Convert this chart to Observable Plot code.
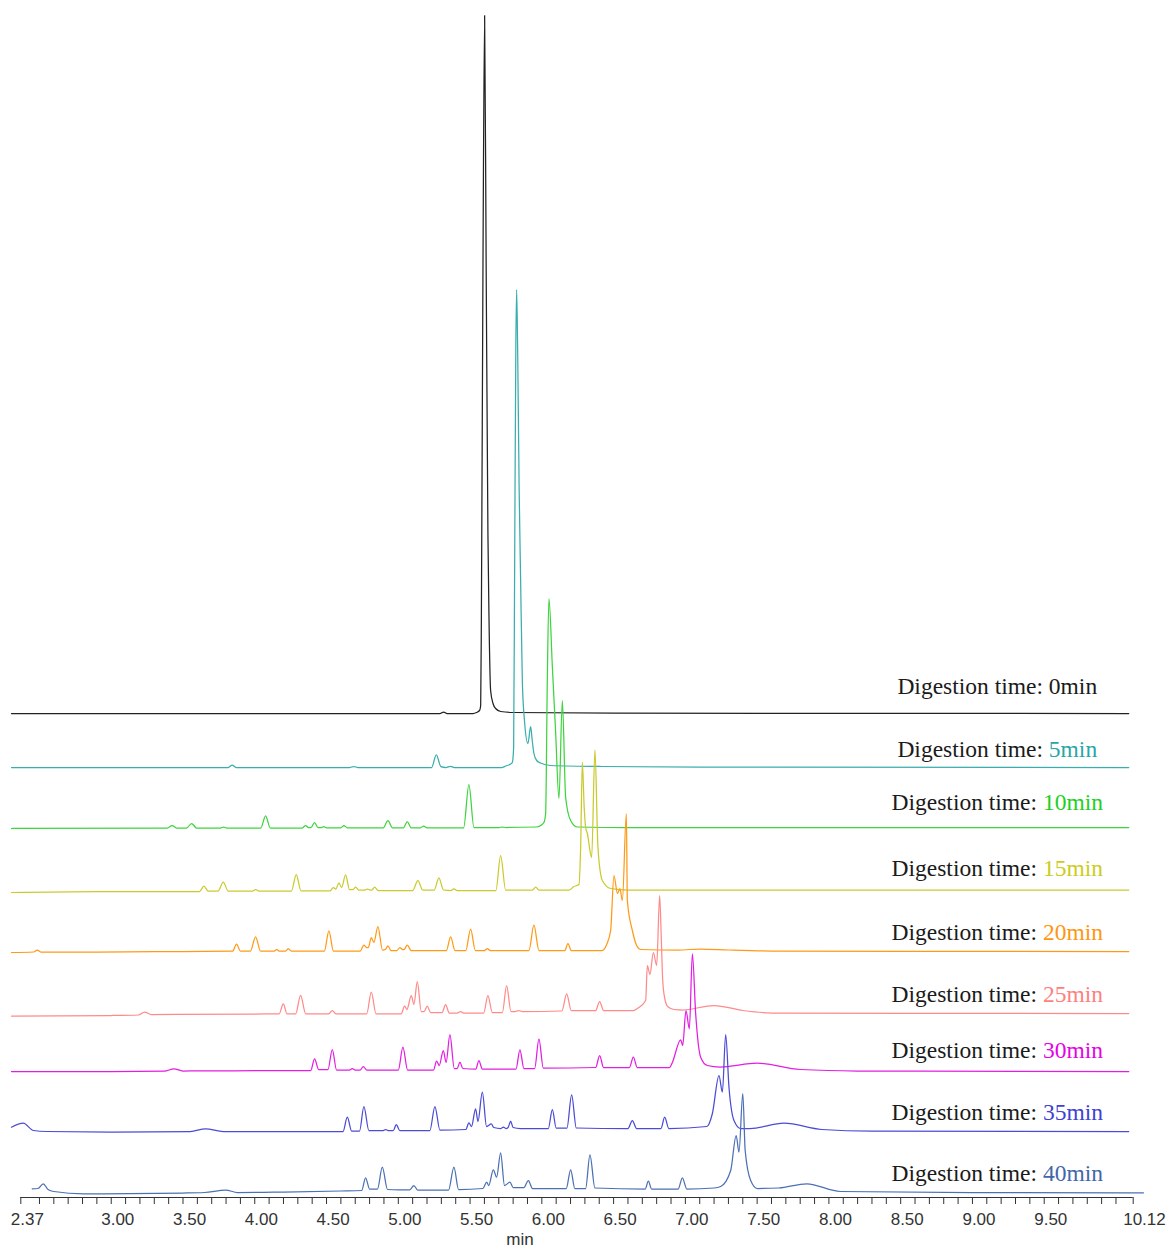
<!DOCTYPE html>
<html>
<head>
<meta charset="utf-8">
<script src="https://cdn.jsdelivr.net/npm/d3@7"></script>
<script src="https://cdn.jsdelivr.net/npm/@observablehq/plot@0.6"></script>
<style>
  html, body { margin: 0; padding: 0; background: #ffffff; }
  #chart svg { display: block; }
</style>
</head>
<body>
<div id="chart"></div>
<script>
// ---- Series: digestion times, colours, stacking offsets (intensity units) ----
const traceNames   = ["0min", "5min", "10min", "15min", "20min", "25min", "30min", "35min", "40min"];
const lineColors   = ["#222222", "#3aadad", "#3fd43f", "#caca2e", "#ff9a16", "#ff8a8a", "#e21ee2", "#4b4bd6", "#4c70b4"];
const textColors   = ["#1a1a1a", "#27a6a6", "#1ed01e", "#cccc1e", "#ff9612", "#ff7f7f", "#e600e6", "#4040d4", "#4266aa"];
const traceOffsets = [484, 430, 369, 306, 246, 183, 126, 66, 7];
const labelLift    = [27.5, 18.5, 26.5, 23, 19.5, 20, 21.5, 18.7, 17];
const labelTime    = 9.173;

// ---- Chromatogram points [retention time (min), intensity above trace baseline] ----
const trace0 = [[2.305,0],[5.29,0],[5.316,1.5],[5.34,0],[5.52,0],[5.545,1],[5.566,3],[5.574,8],[5.579,100],[5.59,450],[5.6014,698],[5.612,450],[5.6244,180],[5.6314,100],[5.6432,23],[5.66,10],[5.678,5],[5.713,2],[5.80,1],[6.5,0.3],[10.089,0]];

const trace5 = [[2.305,0],[3.815,0],[3.8432,2.5],[3.87,0],[4.66,0],[4.69,1],[4.72,0],[5.232,0],[5.2648,12.7],[5.297,0.8],[5.33,0],[5.3645,1.2],[5.39,0],[5.72,0],[5.748,1.5],[5.7826,3.5],[5.7944,5],[5.8035,20],[5.8105,200],[5.8188,420],[5.8244,478],[5.8314,420],[5.8418,280],[5.8523,187],[5.8641,87],[5.8801,45],[5.9031,24],[5.922,41],[5.9324,28],[5.9449,14],[5.9638,7],[5.9916,4.5],[6.0613,2],[6.41,1],[7.107,0.5],[10.089,0]];

const trace10 = [[2.305,0],[3.39,0.3],[3.4251,3],[3.455,0.5],[3.525,0.5],[3.5596,5],[3.595,0.5],[3.76,0.5],[3.7826,1.5],[3.805,0.5],[4.042,0.5],[4.0753,12.6],[4.108,0.5],[4.33,0.5],[4.354,3],[4.375,1],[4.392,1],[4.4167,6],[4.44,1],[4.465,1],[4.4815,2],[4.50,0.7],[4.60,0.7],[4.6209,3],[4.645,0.7],[4.895,0.7],[4.9275,8],[4.96,0.7],[5.035,0.7],[5.0627,7],[5.09,0.7],[5.155,0.7],[5.1763,2.5],[5.20,0.7],[5.455,0.7],[5.492,44],[5.527,1],[5.70,1],[5.7247,1.5],[5.75,1],[5.96,1.5],[5.9916,3],[6.0146,6],[6.0265,15],[6.0383,150],[6.0495,230],[6.0732,162],[6.0962,96],[6.1192,30],[6.1429,128],[6.1659,31],[6.2007,8],[6.2474,1.5],[6.6,1],[10.089,1]];

const trace15 = [[2.305,-1],[2.9,0],[3.615,0],[3.6453,5.3],[3.675,0.5],[3.745,0.5],[3.7805,9.3],[3.815,0.5],[3.985,0.5],[4.0056,2],[4.03,0.5],[4.255,0.5],[4.2892,17],[4.322,0.7],[4.525,0.7],[4.547,4],[4.565,2.5],[4.5861,8.7],[4.605,4],[4.6328,16.7],[4.66,2],[4.685,2],[4.7024,4.3],[4.725,1.5],[4.765,1.5],[4.784,2.5],[4.805,1.5],[4.815,1.5],[4.8348,4.3],[4.86,1],[5.10,1],[5.1366,11],[5.17,1.5],[5.25,1.5],[5.2829,13.7],[5.315,1.5],[5.365,1],[5.3875,2.7],[5.41,1],[5.68,1],[5.7129,36],[5.748,1.5],[5.935,1.5],[5.9568,4.3],[5.98,1.5],[6.19,1.5],[6.2237,5],[6.2586,7],[6.2704,44],[6.2822,129.3],[6.2948,85],[6.3052,64],[6.317,58],[6.347,34],[6.37,141.7],[6.3909,44],[6.4216,11],[6.4794,3],[6.6,1.5],[10.089,1.5]];

const trace20 = [[2.305,-1],[2.46,-0.5],[2.4843,1.5],[2.51,-0.5],[2.9,-0.5],[3.5,0],[3.845,0.3],[3.8732,7.3],[3.9,0.5],[3.97,0.5],[4.0056,14.7],[4.04,0.5],[4.135,0.5],[4.1533,2],[4.17,0.5],[4.215,0.5],[4.2334,2.7],[4.255,0.5],[4.485,0.5],[4.5164,20.7],[4.548,0.5],[4.735,0.5],[4.7603,6.3],[4.78,4],[4.7915,4],[4.8118,14],[4.83,9],[4.8578,25],[4.89,1.5],[4.91,2],[4.9275,5.7],[4.95,1],[4.99,1],[5.0112,4],[5.03,2],[5.04,2],[5.0627,6.3],[5.09,1],[5.335,1],[5.3645,14.7],[5.395,1],[5.47,1],[5.5038,22.3],[5.537,1],[5.60,1],[5.6202,3],[5.64,1],[5.91,1],[5.9449,26.3],[5.98,1],[6.16,1],[6.1819,8],[6.205,1],[6.42,1],[6.4516,7],[6.4794,21],[6.5024,76],[6.527,58],[6.5443,63],[6.561,51],[6.5889,138],[6.5958,51],[6.6307,21],[6.6606,6],[6.6885,2],[6.95,1.5],[7.107,2.5],[7.30,1.5],[7.6,0.5],[10.089,0]];

const trace25 = [[2.305,-1.5],[3.0,-1],[3.19,-0.5],[3.2321,2.5],[3.28,0],[4.0,0.5],[4.17,0.7],[4.1986,10.7],[4.225,0.7],[4.285,0.7],[4.3192,19],[4.355,0.7],[4.515,0.7],[4.5401,4],[4.565,0.7],[4.78,0.7],[4.8118,22.3],[4.845,0.7],[5.02,0.7],[5.0439,8.3],[5.06,5],[5.0906,19],[5.1087,10],[5.1324,33],[5.16,3],[5.18,3],[5.2021,8.3],[5.225,2],[5.305,2],[5.3296,10],[5.355,1.5],[5.41,1.5],[5.4341,3],[5.455,1.5],[5.595,1.5],[5.6244,19],[5.655,2],[5.725,2],[5.7547,29],[5.785,3],[5.815,3],[5.8383,4],[5.865,3],[6.14,3.5],[6.1728,20.7],[6.205,4],[6.375,4],[6.4028,13],[6.43,4],[6.64,4],[6.6655,6],[6.7233,14],[6.7352,49],[6.7533,40],[6.777,62],[6.80,49],[6.8209,119],[6.8314,80],[6.8418,35],[6.8509,20.7],[6.8767,8],[6.9206,5],[6.98,4.5],[7.1993,9],[7.40,4],[7.60,1.5],[10.089,1]];

const trace30 = [[2.305,0],[3.0,0],[3.37,0.3],[3.4362,2.7],[3.50,0.5],[4.2,1],[4.39,1],[4.4167,12.7],[4.445,2],[4.51,2],[4.5401,22],[4.57,1.5],[4.66,1.5],[4.6794,3],[4.70,1.5],[4.735,1.5],[4.7561,5],[4.78,1.5],[5.0,1.5],[5.0321,24.3],[5.065,1.5],[5.245,1.5],[5.2669,10.3],[5.285,6],[5.3136,21],[5.3331,9],[5.3596,37],[5.39,3],[5.41,3],[5.4293,9.3],[5.45,3],[5.54,2.5],[5.5617,11],[5.585,2.5],[5.82,2.5],[5.8474,21.7],[5.875,3],[5.95,3],[5.9798,32.7],[6.01,3.5],[6.375,4],[6.4028,16],[6.43,4],[6.61,4],[6.6376,14.3],[6.665,4],[6.89,4],[6.9094,9],[6.9672,31.7],[6.9812,26],[7.0042,61],[7.0279,42.7],[7.0488,117.7],[7.0718,57.7],[7.1066,14.3],[7.1533,6],[7.24,4.5],[7.5017,8.3],[7.80,2],[8.2,0.5],[10.089,0]];

const trace35 = [[2.305,4.3],[2.3868,8.3],[2.4585,1],[2.55,0],[3.0,-0.5],[3.55,0],[3.6571,2.7],[3.78,0],[4.615,0],[4.6446,14.3],[4.675,0.5],[4.73,0.5],[4.7603,25],[4.795,1],[4.895,1],[4.9115,2],[4.93,1],[4.965,1],[4.9861,7],[5.01,1],[5.22,1],[5.2551,25],[5.29,1.5],[5.47,2],[5.492,8.6],[5.51,5],[5.5387,22.7],[5.555,10],[5.5854,39.3],[5.615,5],[5.6481,7.6],[5.665,4],[5.715,3],[5.7317,4.3],[5.75,3],[5.765,4],[5.7826,10.3],[5.80,4],[5.85,3],[6.045,3],[6.0732,22],[6.10,3.5],[6.175,3.5],[6.2077,36.7],[6.24,3.5],[6.60,3],[6.6307,11],[6.66,3],[6.83,3],[6.8557,14.3],[6.885,3],[7.15,5],[7.1882,18],[7.2342,56],[7.2578,39.3],[7.2808,97],[7.3038,44.3],[7.3387,11],[7.3854,3],[7.45,3],[7.6871,8.3],[7.95,2],[8.3,0.3],[10.089,0]];

const trace40 = [[2.4495,1.7],[2.49,2],[2.5261,6.7],[2.56,1],[2.60,-1],[2.8091,-3.3],[3.5,-2.5],[3.65,-2],[3.7965,0.5],[3.88,-2],[4.2,-1.5],[4.6,-0.5],[4.745,0],[4.7721,12.7],[4.80,1.5],[4.855,1.5],[4.8885,23.3],[4.925,1],[5.0,0.7],[5.08,0.7],[5.1087,5],[5.135,0.5],[5.35,0.5],[5.3875,23.3],[5.42,1],[5.59,2],[5.6153,8.3],[5.63,5],[5.662,20.7],[5.685,13.3],[5.7129,37.7],[5.74,5],[5.7777,8.3],[5.80,3],[5.875,3],[5.9059,10],[5.935,2],[6.17,2],[6.2007,20.7],[6.23,2],[6.305,2],[6.3352,35.7],[6.37,2.5],[6.72,1.5],[6.7422,9.3],[6.765,1.5],[6.95,1.5],[6.9791,12.7],[7.01,1.5],[7.20,2.5],[7.246,4],[7.3157,20],[7.354,55],[7.3735,38.3],[7.400,97],[7.4167,40],[7.455,10],[7.5017,2],[7.65,2.5],[7.8453,6.7],[8.08,-1],[9.0,-2],[10.1916,-2.3]];

const traces = [trace0, trace5, trace10, trace15, trace20, trace25, trace30, trace35, trace40];

// ---- Axis ticks ----
const tickValues = [2.37, 3.0, 3.5, 4.0, 4.5, 5.0, 5.5, 6.0, 6.5, 7.0, 7.5, 8.0, 8.5, 9.0, 9.5, 10.12];
const tickLabels = ["2.37", "3.00", "3.50", "4.00", "4.50", "5.00", "5.50", "6.00", "6.50", "7.00", "7.50", "8.00", "8.50", "9.00", "9.50", "10.12"];
const minorTicks = [2.37, ...d3.range(25, 101).map(d => d / 10), 10.12];
const axisTitle = "min";

// ---- Build tables ----
const rows = traces.flatMap((pts, i) =>
  pts.map(([t, h]) => ({trace: traceNames[i], t, v: traceOffsets[i] + h})));
const labelRows = traceNames.map((name, i) => ({name, i, y: traceOffsets[i] + labelLift[i]}));

const chart = Plot.plot({
  width: 1176,
  height: 1250,
  marginLeft: 20.3,
  marginRight: 43.3,
  marginTop: 0,
  marginBottom: 53,
  style: {background: "#ffffff", fontFamily: "'Liberation Sans', Arial, sans-serif", overflow: "visible"},
  x: {domain: [2.37, 10.12], axis: null},
  y: {domain: [0, 1197], axis: null},
  marks: [
    ...traceNames.map((name, i) =>
      Plot.line(rows.filter(r => r.trace === name), {
        x: "t", y: "v", stroke: lineColors[i], strokeWidth: 1.25, curve: "monotone-x"
      })),
    Plot.ruleY([0], {stroke: "#333333", strokeWidth: 1.2}),
    Plot.axisX({ticks: minorTicks, tickSize: 7, tickFormat: () => "", stroke: "#333333", label: null}),
    Plot.axisX({
      ticks: tickValues, tickSize: 0, tickPadding: 15,
      tickFormat: d => tickLabels[tickValues.indexOf(d)],
      textAnchor: "start", dx: -10, fontSize: 17, fill: "#333333",
      fontFamily: "'Liberation Sans', Arial, sans-serif", label: null
    }),
    Plot.text(labelRows, {
      x: () => labelTime, y: "y", text: d => "Digestion time: " + d.name,
      fontSize: 23.5, fontFamily: "'Liberation Serif', 'Times New Roman', serif",
      fill: "#1a1a1a", textAnchor: "middle"
    }),
    Plot.text([axisTitle], {
      frameAnchor: "bottom", dx: -57, dy: 47.5, text: d => d,
      fontSize: 17, fill: "#333333", fontFamily: "'Liberation Sans', Arial, sans-serif"
    })
  ]
});

// Colour the time part of each trace label
d3.select(chart).selectAll("text")
  .filter(function() { return this.textContent.startsWith("Digestion time: "); })
  .each(function() {
    const full = this.textContent;
    const suffix = full.slice("Digestion time: ".length);
    const idx = traceNames.indexOf(suffix);
    this.textContent = "";
    const el = d3.select(this);
    el.append("tspan").text("Digestion time: ");
    el.append("tspan").attr("fill", textColors[idx]).text(suffix);
  });

document.getElementById("chart").appendChild(chart);
</script>
</body>
</html>
